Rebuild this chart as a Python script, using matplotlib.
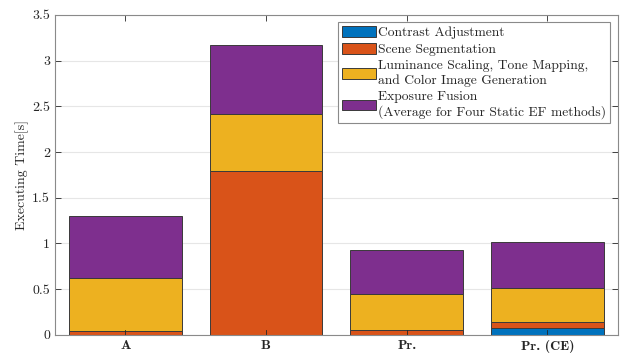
import numpy as np
import matplotlib
matplotlib.use("Agg")
import matplotlib.pyplot as plt

plt.rcParams["font.family"] = ["cmr10", "DejaVu Serif"]
plt.rcParams["axes.formatter.use_mathtext"] = True
plt.rcParams["mathtext.fontset"] = "cm"

methods = ["A", "B", "Pr.", "Pr. (CE)"]
stages = [
    "Contrast Adjustment",
    "Scene Segmentation",
    "Luminance Scaling, Tone Mapping,\nand Color Image Generation",
    "Exposure Fusion\n(Average for Four Static EF methods)",
]
# time of each stage per method, in seconds
contrast_adj = [0.0, 0.0, 0.0, 0.08]
scene_seg = [0.045, 1.79, 0.055, 0.06]
lum_tone_color = [0.575, 0.63, 0.395, 0.375]
exposure_fusion = [0.68, 0.75, 0.48, 0.505]

colors = ["#0072BD", "#D95319", "#EDB120", "#7E2F8E"]
axcol = "#262626"

fig = plt.figure(figsize=(6.24, 3.54), dpi=100)
ax = fig.add_axes([0.088, 0.054, 0.902, 0.904])

x = np.arange(1, len(methods) + 1)
bottom = np.zeros(len(methods))
for vals, lab, c in zip([contrast_adj, scene_seg, lum_tone_color, exposure_fusion], stages, colors):
    vals = np.array(vals)
    ax.bar(x, vals, width=0.8, bottom=bottom, color=c, edgecolor="#3a3a3a",
           linewidth=0.7, label=lab, zorder=2)
    bottom += vals

ax.set_xlim(0.5, 4.5)
ax.set_ylim(0, 3.5)
ax.set_yticks(np.arange(0, 3.51, 0.5))
ax.set_yticklabels(["0", "0.5", "1", "1.5", "2", "2.5", "3", "3.5"])
ax.set_xticks(x)
ax.set_xticklabels(methods, fontfamily="cmb10", fontsize=10)
ax.set_ylabel("Executing Time[s]", fontsize=10, color=axcol, labelpad=2)

ax.grid(axis="y", color="#e6e6e6", linewidth=0.8, zorder=0)
ax.set_axisbelow(True)
ax.tick_params(direction="in", top=True, right=True, length=4, width=0.6,
               colors=axcol, labelsize=10, zorder=3)
ax.tick_params(axis="x", pad=3.5)
for s in ax.spines.values():
    s.set_color("#8a8a8a")
    s.set_linewidth(0.8)
    s.set_zorder(4)

# draw tick marks over the bars
for xi in x:
    ax.plot([xi, xi], [0, 0.05], color=axcol, lw=0.6, zorder=3)

leg = ax.legend(loc="upper right", fontsize=9.75, frameon=True, fancybox=False,
                framealpha=1, edgecolor="#8a8a8a", handlelength=2.5,
                handleheight=0.8, handletextpad=0.15, labelspacing=0.3,
                borderpad=0.3, borderaxespad=0.55)
leg.get_frame().set_linewidth(0.8)
for t in leg.get_texts():
    t.set_color(axcol)

fig.savefig("out.png", dpi=100)
